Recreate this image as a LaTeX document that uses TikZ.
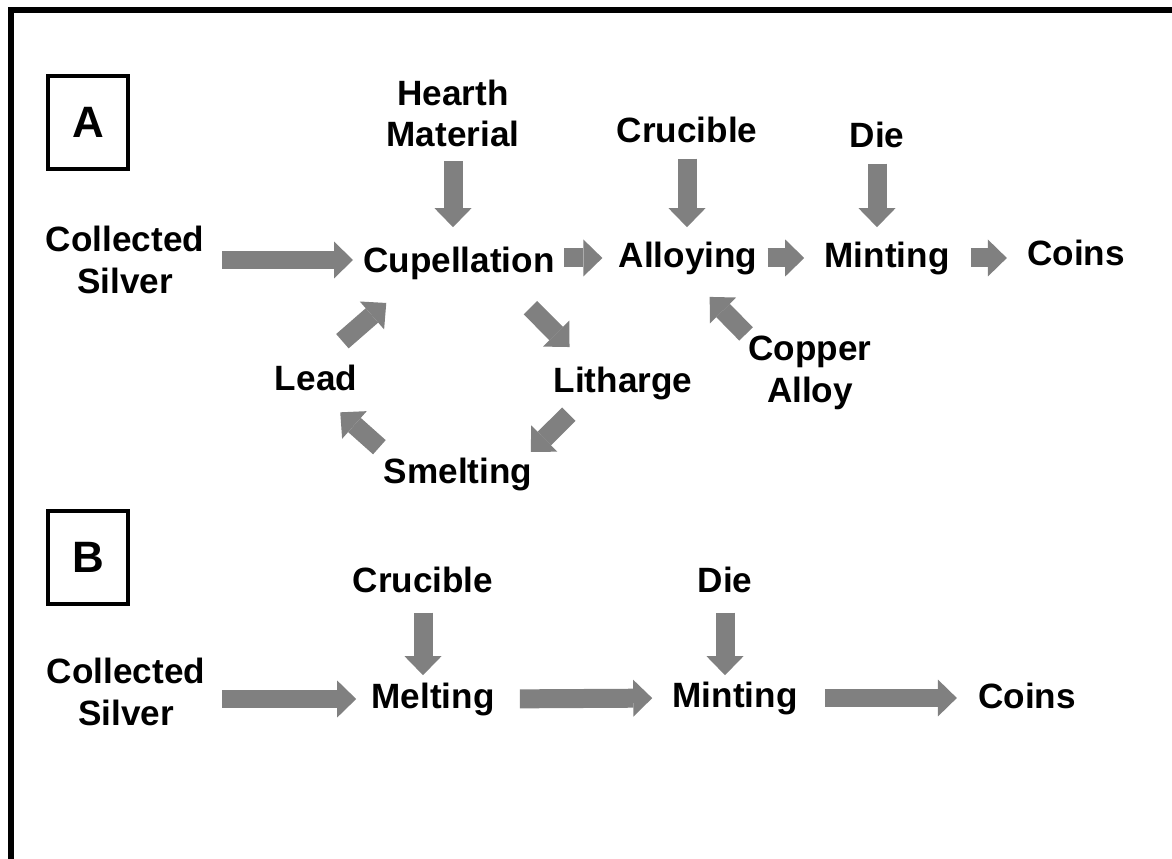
\documentclass[tikz,border=0pt]{standalone}
\usepackage{fontspec}
\setmainfont{Liberation Sans}
\usetikzlibrary{arrows.meta}
\definecolor{arrgray}{RGB}{128,128,128}

\begin{document}
\begin{tikzpicture}[x=0.02cm,y=-0.02cm,
	lbl/.style={font=\fontsize{20}{23.5}\selectfont\bfseries, inner sep=0pt, align=center},
	panel/.style={draw, line width=2.2pt, minimum width=1.6cm, minimum height=1.86cm, inner sep=0pt, font=\fontsize{25}{30}\selectfont\bfseries},
	fat/.style={draw=arrgray, line width=0.38cm, -{Triangle[length=0.38cm,width=0.74cm,line width=0pt]}}]
	\useasboundingbox (0,0) rectangle (1172,858);
	\fill[white] (0,0) rectangle (1172,858);
	
	%frame, only top and left edge show
	\draw[line width=3pt] (11,900)--(11,10)--(1200,10);
	
	%panel A
	\node[panel] (boxA) at (88,122.5) {A};
	\node[lbl] (csA) at (125,260) {Collected\\Silver};
	\node[lbl] (hearth) at (453,113.5) {Hearth\\Material};
	\node[lbl, anchor=base] (cup) at (459,272) {Cupellation};
	\node[lbl, anchor=base] (crucA) at (687,143) {Crucible};
	\node[lbl, anchor=base] (alloy) at (688,267) {Alloying};
	\node[lbl, anchor=base] (dieA) at (877,148) {Die};
	\node[lbl, anchor=base] (mintA) at (887,267) {Minting};
	\node[lbl, anchor=base] (coinsA) at (1076,265) {Coins};
	\node[lbl, anchor=base] (lead) at (316,390) {Lead};
	\node[lbl, anchor=base] (lith) at (623,392) {Litharge};
	\node[lbl, anchor=base] (smelt) at (458,483) {Smelting};
	\node[lbl] (copper) at (810,373) {Copper\\Alloy};
	
	%main line A
	\draw[fat, shorten <=0.36cm, shorten >=0.2cm] (csA.east) -- (csA.east -| cup.west);
	\draw[fat, shorten <=0.18cm, shorten >=0.32cm] (cup.east |- alloy) -- (alloy.west);
	\draw[fat, shorten <=0.2cm, shorten >=0.4cm] (alloy.east) -- (mintA.west);
	\draw[fat, shorten <=0.42cm, shorten >=0.4cm] (mintA.east) -- (mintA.east -| coinsA.west);
	
	%inputs from above
	\draw[fat, shorten <=0.28cm, shorten >=0.38cm] (hearth.south) -- (hearth.south |- cup.north);
	\draw[fat, shorten <=0.3cm, shorten >=0.28cm] (crucA.south) -- (crucA.south |- alloy.north);
	\draw[fat, shorten <=0.3cm, shorten >=0.28cm] (dieA.south) -- (dieA.south |- mintA.north);
	
	%lead cycle
	\draw[fat, shorten <=0.7cm, shorten >=0.71cm] (lead.north) -- (cup.200);
	\draw[fat, shorten <=0.79cm, shorten >=0.54cm] (cup.339) -- (lith.154);
	\draw[fat, shorten <=0.41cm, shorten >=0.15cm] (lith.203) -- (smelt.14);
	\draw[fat, shorten <=0.3cm, shorten >=0.65cm] (smelt.166) -- (lead.south);
	\draw[fat, shorten <=0.06cm, shorten >=0.62cm] (copper.north west) -- (alloy.south);
	
	%panel B
	\node[panel] (boxB) at (88,557.5) {B};
	\node[lbl] (csB) at (126,692) {Collected\\Silver};
	\node[lbl, anchor=base] (crucB) at (423,592) {Crucible};
	\node[lbl, anchor=base] (melt) at (433,708) {Melting};
	\node[lbl, anchor=base] (dieB) at (725,592) {Die};
	\node[lbl, anchor=base] (mintB) at (735,707) {Minting};
	\node[lbl, anchor=base] (coinsB) at (1027,708) {Coins};
	
	\draw[fat, shorten <=0.34cm, shorten >=0.3cm] (csB.east |- melt) -- (melt.west);
	\draw[fat, shorten <=0.5cm, shorten >=0.4cm] (melt.east) -- (mintB.west);
	\draw[fat, shorten <=0.54cm, shorten >=0.42cm] (mintB.east) -- (mintB.east -| coinsB.west);
	\draw[fat, shorten <=0.4cm, shorten >=0.14cm] (crucB.south) -- (crucB.south |- melt.north);
	\draw[fat, shorten <=0.4cm, shorten >=0.12cm] (dieB.south) -- (dieB.south |- mintB.north);
\end{tikzpicture}
\end{document}
